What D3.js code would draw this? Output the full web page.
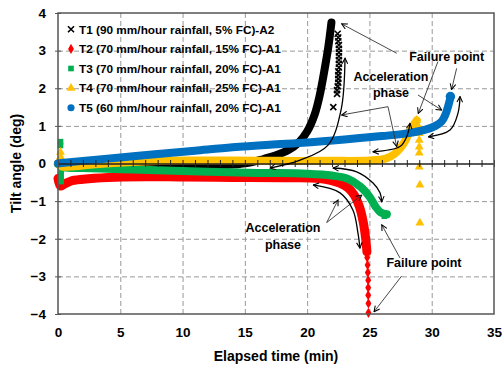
<!DOCTYPE html>
<html>
<head>
<meta charset="utf-8">
<script src="https://cdnjs.cloudflare.com/ajax/libs/d3/7.8.5/d3.min.js"></script>
<style>
  body { margin: 0; background: #fff; }
  text { font-family: "Liberation Sans", Arial, sans-serif; font-weight: bold; fill: #000; }
</style>
</head>
<body>
<div id="container"></div>
<script>
// tick values
const xTicks = [0, 5, 10, 15, 20, 25, 30, 35];
const yTicks = [-4, -3, -2, -1, 0, 1, 2, 3, 4];

// legend labels
const labels = [
  "T1 (90 mm/hour rainfall, 5% FC)-A2",
  "T2 (70 mm/hour rainfall, 15% FC)-A1",
  "T3 (70 mm/hour rainfall, 20% FC)-A1",
  "T4 (70 mm/hour rainfall, 25% FC)-A1",
  "T5 (60 mm/hour rainfall, 20% FC)-A1"
];

// [time (min), tilt (deg)]
const t1Band = [[0, 0], [0.5, -0.05], [3, -0.05], [7, -0.05], [11, -0.05], [14, -0.03], [15.5, 0.03], [16.5, 0.12],
  [17.5, 0.22], [18.5, 0.36], [19.3, 0.55], [20, 0.85], [20.6, 1.3], [21, 1.8], [21.4, 2.5], [21.7, 3.1], [21.95, 3.75]];
const t1Pts = [[22.45, 3.45], [22.5, 3.35], [22.5, 3.25], [22.55, 3.15], [22.55, 3.05], [22.55, 2.95], [22.55, 2.85],
  [22.55, 2.75], [22.55, 2.65], [22.55, 2.55], [22.5, 2.45], [22.5, 2.35], [22.5, 2.25], [22.5, 2.15], [22.45, 2.05],
  [22.4, 1.95], [22.4, 1.85], [22.1, 1.5]];

const t2Band = [[0, -0.4], [0.2, -0.6], [0.5, -0.55], [1, -0.47], [2, -0.42], [4, -0.37], [7, -0.35], [10, -0.36],
  [14, -0.37], [18, -0.38], [21, -0.4], [22.6, -0.52], [23.3, -0.65], [23.8, -0.85], [24.2, -1.15], [24.5, -1.55],
  [24.7, -2.0], [24.8, -2.35]];
const t2Pts = [[24.82, -2.5], [24.85, -2.7], [24.87, -2.9], [24.9, -3.1], [24.9, -3.3], [24.9, -3.5], [24.92, -3.72], [24.92, -3.97]];

const t3Band = [[0, -0.02], [0.5, -0.1], [2, -0.12], [5, -0.15], [8, -0.18], [12, -0.22], [16, -0.25], [20, -0.27],
  [22, -0.32], [23.2, -0.4], [24.3, -0.62], [25, -0.88], [25.5, -1.15], [25.9, -1.3], [26.4, -1.35]];
const t3Pts = [[0.2, 0.58], [0.2, 0.48], [0.25, -0.2], [0.25, -0.3], [0.25, -0.4], [0.25, -0.48], [26.2, -1.4], [26.4, -1.35]];

const t4Band = [[0, 0], [0.3, -0.08], [1, -0.08], [3, -0.02], [6, 0.04], [10, 0.08], [14, 0.08], [18, 0.07],
  [22, 0.07], [25, 0.08], [26.3, 0.13], [27, 0.25], [27.5, 0.42], [27.9, 0.62], [28.3, 0.9], [28.8, 1.15]];
const t4Pts = [[0.2, 0.3], [0.2, 0.18], [28.8, 1.15], [29, 0.95], [29, 0.8], [29, 0.62], [29, 0.44], [29, 0.28],
  [29, -0.09], [29.05, -0.57], [29.05, -1.58]];

const t5Band = [[0, 0], [0.5, 0.02], [2, 0.07], [5, 0.16], [8, 0.25], [11, 0.34], [14, 0.43], [17, 0.5], [20, 0.56],
  [23, 0.64], [26, 0.73], [28, 0.8], [29.5, 0.9], [30.3, 1.0], [30.8, 1.12], [31.1, 1.3], [31.3, 1.5], [31.5, 1.75]];
const t5Pts = [[31.5, 1.78]];

const margin = { top: 13, right: 9, bottom: 55, left: 58 };
const W = 503, H = 369;
const width = W - margin.left - margin.right;
const height = H - margin.top - margin.bottom;

const svg = d3.select('#container')
  .append('svg')
  .attr('width', W)
  .attr('height', H);

const defs = svg.append('defs');
defs.append('marker')
  .attr('id', 'head')
  .attr('viewBox', '0 0 10 10')
  .attr('refX', 9).attr('refY', 5)
  .attr('markerWidth', 7).attr('markerHeight', 7)
  .attr('markerUnits', 'userSpaceOnUse')
  .attr('orient', 'auto-start-reverse')
  .append('path')
  .attr('d', 'M1,1 L9,5 L1,9')
  .attr('fill', 'none')
  .attr('stroke', '#000')
  .attr('stroke-width', 1.5);

const g = svg.append('g').attr('transform', `translate(${margin.left},${margin.top})`);

const x = d3.scaleLinear().domain([0, 35]).range([0, width]);
const y = d3.scaleLinear().domain([-4, 4]).range([height, 0]);

// dashed grid
g.append('g')
  .call(d3.axisBottom(x).tickValues(xTicks.slice(1, -1)).tickSize(height).tickFormat(''))
  .call(s => s.select('.domain').remove())
  .call(s => s.selectAll('line').attr('stroke', '#999').attr('stroke-dasharray', '5,3').attr('stroke-width', 1));

g.append('g')
  .call(d3.axisLeft(y).tickValues(yTicks.filter(v => v !== 0 && Math.abs(v) !== 4)).tickSize(-width).tickFormat(''))
  .call(s => s.select('.domain').remove())
  .call(s => s.selectAll('line').attr('stroke', '#999').attr('stroke-dasharray', '5,3').attr('stroke-width', 1));

// x tick labels at the bottom
g.append('g')
  .attr('transform', `translate(0,${height})`)
  .call(d3.axisBottom(x).tickValues(xTicks).tickSize(0).tickPadding(13))
  .call(s => s.select('.domain').remove())
  .call(s => s.selectAll('text').style('font-size', '13.5px').style('font-family', '"Liberation Sans", Arial, sans-serif').style('font-weight', 'bold'));

// y axis
g.append('g')
  .call(d3.axisLeft(y).tickValues(yTicks).tickSizeInner(3).tickSizeOuter(0).tickPadding(9))
  .call(s => s.select('.domain').remove())
  .call(s => s.selectAll('line').attr('stroke', '#555').attr('x2', 3).attr('x1', -3))
  .call(s => s.selectAll('text').style('font-size', '13.5px').style('font-family', '"Liberation Sans", Arial, sans-serif').style('font-weight', 'bold'));

// series
const lineY = d3.line().x(d => x(d[0])).y(d => y(d[1])).curve(d3.curveCatmullRom.alpha(0.5));

const series = [
  { band: t1Band, pts: t1Pts, color: '#000000', w: 8, sym: 'x' },
  { band: t2Band, pts: t2Pts, color: '#FF0000', w: 9, sym: d3.symbolDiamond, size: 30 },
  { band: t3Band, pts: t3Pts, color: '#00B050', w: 8, sym: d3.symbolSquare, size: 32 },
  { band: t4Band, pts: t4Pts, color: '#FFC000', w: 8, sym: d3.symbolTriangle, size: 34 },
  { band: t5Band, pts: t5Pts, color: '#0070C0', w: 8, sym: d3.symbolCircle, size: 70 }
];

function drawSym(sel, s, px, py, size) {
  if (s.sym === 'x') {
    const r = 3;
    sel.append('path')
      .attr('d', `M${px - r},${py - r}L${px + r},${py + r}M${px - r},${py + r}L${px + r},${py - r}`)
      .attr('stroke', s.color).attr('stroke-width', 1.6).attr('fill', 'none');
  } else {
    sel.append('path')
      .attr('d', d3.symbol().type(s.sym).size(size || s.size)())
      .attr('transform', `translate(${px},${py})`)
      .attr('fill', s.color);
  }
}

series.forEach(s => {
  g.append('path')
    .datum(s.band)
    .attr('d', lineY)
    .attr('fill', 'none')
    .attr('stroke', s.color)
    .attr('stroke-width', s.w)
    .attr('stroke-linejoin', 'round')
    .attr('stroke-linecap', 'round');
  s.pts.forEach(p => drawSym(g, s, x(p[0]), y(p[1])));
});

// zero line with minor ticks
g.append('g')
  .attr('transform', `translate(0,${y(0)})`)
  .call(d3.axisBottom(x).ticks(35).tickSizeInner(3.5).tickSizeOuter(0).tickFormat(''))
  .call(s => s.select('.domain').attr('stroke', '#222').attr('stroke-width', 1.3))
  .call(s => s.selectAll('line').attr('stroke', '#222').attr('y1', -3.5).attr('y2', 3.5));

// frame
g.append('rect')
  .attr('width', width).attr('height', height)
  .attr('fill', 'none').attr('stroke', '#555').attr('stroke-width', 1.5);

// legend
labels.forEach((lab, i) => {
  const ly = 29.3 + i * 19.6 - margin.top;
  drawSym(g, series[i], 71 - margin.left, ly, i === 4 ? 40 : series[i].size);
  g.append('text')
    .attr('x', 79 - margin.left).attr('y', ly).attr('dy', '0.36em')
    .style('font-size', '11.8px')
    .text(lab);
});

// annotations
const note = (txt, t, v) => g.append('text')
  .attr('x', x(t)).attr('y', y(v)).attr('dy', '0.36em')
  .attr('text-anchor', 'middle').style('font-size', '12.5px').text(txt);

note('Failure point', 31.2, 2.84);
note('Acceleration', 26.73, 2.31);
note('phase', 26.73, 1.88);
note('Acceleration', 18.06, -1.69);
note('phase', 18.06, -2.14);
note('Failure point', 29.38, -2.62);

const straight = [
  [[27.19, 2.93], [22.77, 3.71]],
  [[30.5, 2.71], [28.92, 1.33]],
  [[32.0, 2.53], [31.6, 1.97]],
  [[26.49, 1.51], [22.77, 1.29]],
  [[26.49, 1.51], [27.19, 0.45]],
  [[28.9, 1.82], [30.8, 1.42]],
  [[21.57, -1.57], [22.48, -0.97]],
  [[21.57, -1.57], [24.38, -0.84]],
  [[27.45, -2.51], [25.99, -1.63]],
  [[27.59, -2.99], [25.37, -3.94]]
];
straight.forEach(a => {
  g.append('path')
    .attr('d', d3.line().x(d => x(d[0])).y(d => y(d[1]))(a))
    .attr('stroke', '#333').attr('stroke-width', 0.9).attr('fill', 'none')
    .attr('marker-end', 'url(#head)');
});

const curved = [
  [[23.04, 2.80], [22.72, 1.42], [21.68, 0.49], [19.43, 0.09], [17.02, -0.12]],
  [[25.29, 0.31], [27.45, 0.45], [27.99, 0.71], [28.26, 1.07]],
  [[29.73, 0.71], [31.47, 0.89], [32.11, 1.34], [32.27, 1.78]],
  [[20.49, -0.57], [22.64, -0.78], [23.68, -1.24], [24.08, -1.85], [24.24, -2.25]],
  [[22.08, -0.12], [23.98, -0.22], [25.29, -0.52], [25.85, -0.78], [25.99, -1.02]]
];
curved.forEach(a => {
  g.append('path')
    .attr('d', lineY(a))
    .attr('stroke', '#000').attr('stroke-width', 1.3).attr('fill', 'none')
    .attr('marker-start', 'url(#head)')
    .attr('marker-end', 'url(#head)');
});

// axis titles
svg.append('text')
  .attr('x', 276).attr('y', 361)
  .attr('text-anchor', 'middle').style('font-size', '14px')
  .text('Elapsed time (min)');

svg.append('text')
  .attr('transform', `translate(21,${margin.top + height / 2}) rotate(-90)`)
  .attr('text-anchor', 'middle').style('font-size', '14px')
  .text('Tilt angle (deg)');
</script>
</body>
</html>
